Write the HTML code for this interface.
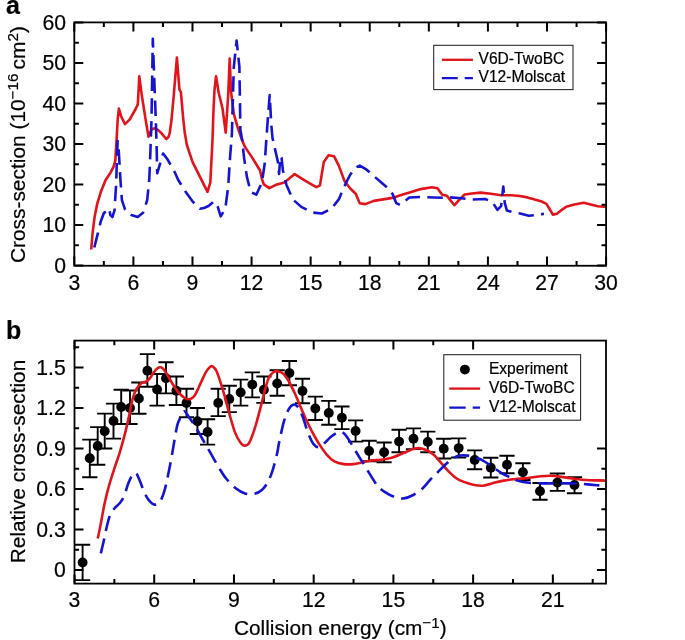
<!DOCTYPE html><html><head><meta charset="utf-8"><style>html,body{margin:0;padding:0;background:#fff;width:685px;height:640px;overflow:hidden}svg{display:block;will-change:transform}text{font-family:"Liberation Sans", sans-serif;fill:#000;stroke:#000;stroke-width:0.2px}</style></head><body>
<svg width="685" height="640" viewBox="0 0 685 640">
<rect width="685" height="640" fill="#fff"/>
<g>
<clipPath id="ca"><rect x="74.3" y="22.4" width="531.8" height="243.1"/></clipPath>
<g clip-path="url(#ca)">
<path d="M91.2 249.5 L92.8 231 L94.7 216.4 L97.1 204.2 L100.8 192.1 L105.6 180 L110.5 172.7 L113.6 166.7 L115.3 160.6 L116.5 141.2 L117.7 119.4 L118.9 108.5 L121.4 117 L125 124.2 L129.8 119.4 L135.9 108.5 L137.8 104.4 L139.3 76.3 L141.5 93.2 L145.3 117.6 L148.5 136.8 L151.5 129.5 L154.6 128.3 L158 130 L161 132.7 L166.2 139 L168.5 137 L169.8 132.6 L171.5 120 L173.8 95 L176.9 57.5 L179.4 89.4 L180.9 92.2 L183.1 117.6 L184.8 133 L186.9 145 L192.5 161.9 L200 176.9 L207.5 191.9 L210.3 182.5 L211.5 160 L212.5 140 L213.5 110 L214.5 90 L216 76.3 L218.8 93.2 L222.5 108.2 L225.7 132.6 L228.2 95 L229.7 58.5 L231 91.3 L233.8 113.8 L237.5 126.9 L241.3 138.2 L245 146.9 L252.5 158.1 L258.2 167.5 L260 170.3 L261.9 178.8 L263.8 184.4 L269.4 188.2 L276.9 184.4 L284.4 182.5 L294.7 174.1 L305 180.7 L316.3 187.2 L320 185.3 L323.8 161.9 L328.5 155.3 L334.1 156.3 L338.8 165.6 L344.4 180.7 L350 188.2 L355.7 193.8 L359.7 203.2 L365.3 204.1 L373.8 200.9 L383.1 199.4 L392.5 197.9 L401.9 194.7 L411.3 191.9 L420.7 189.1 L431.9 187.2 L437.5 188.2 L442.2 194.7 L446.9 195.7 L449.7 199.4 L454.4 205.2 L458.8 200.4 L464.6 194.5 L471.9 193.5 L480.7 192.6 L490.9 193.8 L501.1 195.3 L511.3 195.3 L520 196 L527.4 197.4 L534.7 199.6 L541.7 201.5 L546.4 203.9 L549.3 208.5 L552.8 214.6 L556.9 213.8 L560.4 210.9 L566.2 206.8 L574.4 204.5 L583.7 202.7 L590.7 204.5 L597.7 206.2 L604.7 206.8 L606 207" fill="none" stroke="#e0141a" stroke-width="2.6" stroke-linejoin="round"/>
<path d="M94.3 247.5 L97.7 233.9 L100.8 221.3 L104 212.8 L107.2 210.7 L109.3 208.6 L110.3 214.9 L112.4 217 L114.5 210.7 L116.2 183.3 L117.1 151.6 L117.7 141.1 L118.8 151.6 L120.4 179.1 L121.9 200.2 L125.1 209.7 L131.4 214.9 L137.7 217 L143 212.8 L147.2 200.2 L149.3 179.1 L150.4 151.6 L151.5 120 L152.8 38.8 L154.3 80 L155.8 120 L156.6 145 L157.2 173.3 L163.1 153.6 L167.8 159.8 L174.8 172.3 L178.1 179.8 L186.1 192.5 L192.5 201.3 L200 208.8 L204 208 L208.5 206 L214.1 201.3 L217.8 206.9 L220.7 216.3 L225.3 208.8 L228.2 186.3 L230 158.1 L231.9 133.8 L233.8 66.9 L236.6 40.6 L239.4 66.9 L240.4 130 L242.2 140 L244.1 158.1 L246.9 176.9 L250.7 191.9 L256.3 194.7 L261.9 182.5 L264.7 163.8 L266.6 135.6 L268.5 110 L269.7 95 L271.3 125 L272.5 138 L274.1 145 L277.8 161.5 L279.1 174 L280.3 156.3 L281.6 158.1 L282.9 170.3 L286.3 184.4 L292.8 199.4 L301.3 206.9 L312.5 212.5 L321.9 213.5 L331.3 208.8 L338.8 199.4 L344.4 186.3 L350 175 L355.7 167.5 L359.7 165.6 L366.3 169.4 L373.8 176 L381.3 182.5 L386.9 187.2 L392.5 193.8 L396.3 203.2 L400 205 L404.7 201.3 L409.4 197.5 L420.7 197 L433.8 197.5 L445 197.9 L450 197.4 L461.7 198.2 L470.4 199.6 L485 199 L492.3 201.8 L497.4 209.9 L501.1 206.2 L503.3 186.5 L504.7 202.6 L506.9 210.6 L512.8 212 L520.1 213.5 L528.8 215.7 L537.6 215 L544 213.8" fill="none" stroke="#1414d2" stroke-width="2.6" stroke-linejoin="round" stroke-dasharray="15.5 7.3"/>
</g>
<rect x="74.3" y="22.4" width="531.8" height="243.35" fill="none" stroke="#000" stroke-width="1.8"/>
<path d="M74.3 265.5V256.5M74.3 22.4V31.4M133.39 265.5V256.5M133.39 22.4V31.4M192.48 265.5V256.5M192.48 22.4V31.4M251.57 265.5V256.5M251.57 22.4V31.4M310.66 265.5V256.5M310.66 22.4V31.4M369.74 265.5V256.5M369.74 22.4V31.4M428.83 265.5V256.5M428.83 22.4V31.4M487.92 265.5V256.5M487.92 22.4V31.4M547.01 265.5V256.5M547.01 22.4V31.4M606.1 265.5V256.5M606.1 22.4V31.4M103.84 265.5V260.9M103.84 22.4V27M162.93 265.5V260.9M162.93 22.4V27M222.02 265.5V260.9M222.02 22.4V27M281.11 265.5V260.9M281.11 22.4V27M340.2 265.5V260.9M340.2 22.4V27M399.29 265.5V260.9M399.29 22.4V27M458.38 265.5V260.9M458.38 22.4V27M517.47 265.5V260.9M517.47 22.4V27M576.56 265.5V260.9M576.56 22.4V27M74.3 265.5H83.3M606.1 265.5H597.1M74.3 224.98H83.3M606.1 224.98H597.1M74.3 184.47H83.3M606.1 184.47H597.1M74.3 143.95H83.3M606.1 143.95H597.1M74.3 103.43H83.3M606.1 103.43H597.1M74.3 62.92H83.3M606.1 62.92H597.1M74.3 22.4H83.3M606.1 22.4H597.1M74.3 245.24H78.9M606.1 245.24H601.5M74.3 204.72H78.9M606.1 204.72H601.5M74.3 164.21H78.9M606.1 164.21H601.5M74.3 123.69H78.9M606.1 123.69H601.5M74.3 83.18H78.9M606.1 83.18H601.5M74.3 42.66H78.9M606.1 42.66H601.5" stroke="#000" stroke-width="2.0" fill="none"/>
<text x="74.3" y="289.9" font-size="21.2" text-anchor="middle" font-weight="normal">3</text>
<text x="133.39" y="289.9" font-size="21.2" text-anchor="middle" font-weight="normal">6</text>
<text x="192.48" y="289.9" font-size="21.2" text-anchor="middle" font-weight="normal">9</text>
<text x="251.57" y="289.9" font-size="21.2" text-anchor="middle" font-weight="normal">12</text>
<text x="310.66" y="289.9" font-size="21.2" text-anchor="middle" font-weight="normal">15</text>
<text x="369.74" y="289.9" font-size="21.2" text-anchor="middle" font-weight="normal">18</text>
<text x="428.83" y="289.9" font-size="21.2" text-anchor="middle" font-weight="normal">21</text>
<text x="487.92" y="289.9" font-size="21.2" text-anchor="middle" font-weight="normal">24</text>
<text x="547.01" y="289.9" font-size="21.2" text-anchor="middle" font-weight="normal">27</text>
<text x="606.1" y="289.9" font-size="21.2" text-anchor="middle" font-weight="normal">30</text>
<text x="66" y="272.7" font-size="21.2" text-anchor="end" font-weight="normal">0</text>
<text x="66" y="232.18" font-size="21.2" text-anchor="end" font-weight="normal">10</text>
<text x="66" y="191.67" font-size="21.2" text-anchor="end" font-weight="normal">20</text>
<text x="66" y="151.15" font-size="21.2" text-anchor="end" font-weight="normal">30</text>
<text x="66" y="110.63" font-size="21.2" text-anchor="end" font-weight="normal">40</text>
<text x="66" y="70.12" font-size="21.2" text-anchor="end" font-weight="normal">50</text>
<text x="66" y="29.6" font-size="21.2" text-anchor="end" font-weight="normal">60</text>
<text transform="translate(24.9 144.6) rotate(-90)" font-size="20.900000000000002" text-anchor="middle">Cross-section (10<tspan font-size="15.2" dy="-7.4">−16 </tspan><tspan dy="7.4">cm</tspan><tspan font-size="15.2" dy="-7.4">2</tspan><tspan dy="7.4">)</tspan></text>
<rect x="433.7" y="45.3" width="139.3" height="44.3" fill="#fff" stroke="#222" stroke-width="1.05"/>
<path d="M441.9 59.8H472.9" stroke="#e0141a" stroke-width="2.3"/>
<path d="M441.9 78.1H472.9" stroke="#1414d2" stroke-width="2.3" stroke-dasharray="15.8 7"/>
<text x="478.5" y="63.8" font-size="15.6" text-anchor="start" font-weight="normal">V6D-TwoBC</text>
<text x="478.5" y="82.4" font-size="15.6" text-anchor="start" font-weight="normal">V12-Molscat</text>
<text x="6" y="14.4" font-size="25" text-anchor="start" font-weight="bold">a</text>
</g>
<g>
<clipPath id="cb"><rect x="74.5" y="340.6" width="531.5" height="243"/></clipPath>
<g clip-path="url(#cb)">
<path d="M82.6 544.8V580.1M75 544.8H90.2M75 580.1H90.2M89.8 439.6V477.2M82.2 439.6H97.4M82.2 477.2H97.4M97.7 427.1V464.7M90.1 427.1H105.3M90.1 464.7H105.3M104.7 413.6V448.5M97.1 413.6H112.3M97.1 448.5H112.3M113.5 403.6V438.6M105.9 403.6H121.1M105.9 438.6H121.1M121.2 389.7V424M113.6 389.7H128.8M113.6 424H128.8M130 390.5V424M122.4 390.5H137.6M122.4 424H137.6M138.9 382.5V413.8M131.3 382.5H146.5M131.3 413.8H146.5M147.4 354.1V386.7M139.8 354.1H155M139.8 386.7H155M157.1 374V405.6M149.5 374H164.7M149.5 405.6H164.7M166 362.2V393.4M158.4 362.2H173.6M158.4 393.4H173.6M176.4 376.5V405M168.8 376.5H184M168.8 405H184M186.5 388.7V417.2M178.9 388.7H194.1M178.9 417.2H194.1M197.4 408V434M189.8 408H205M189.8 434H205M207.6 419.2V444.6M200 419.2H215.2M200 444.6H215.2M218.2 388.7V416.1M210.6 388.7H225.8M210.6 416.1H225.8M229.3 385.7V412.1M221.7 385.7H236.9M221.7 412.1H236.9M240.7 379.6V405.6M233.1 379.6H248.3M233.1 405.6H248.3M252.3 372.4V397.4M244.7 372.4H259.9M244.7 397.4H259.9M263.9 376.5V402.9M256.3 376.5H271.5M256.3 402.9H271.5M277.2 370.3V395.7M269.6 370.3H284.8M269.6 395.7H284.8M289.4 361V385.3M281.8 361H297M281.8 385.3H297M302.5 378.8V403.2M294.9 378.8H310.1M294.9 403.2H310.1M315.3 396.6V420M307.7 396.6H322.9M307.7 420H322.9M328.8 400.9V424.7M321.2 400.9H336.4M321.2 424.7H336.4M341.9 406.5V429.1M334.3 406.5H349.5M334.3 429.1H349.5M355.6 420.4V441.6M348 420.4H363.2M348 441.6H363.2M369.1 440.7V461.3M361.5 440.7H376.7M361.5 461.3H376.7M384.1 442.5V462.2M376.5 442.5H391.7M376.5 462.2H391.7M399.1 429.8V452.3M391.5 429.8H406.7M391.5 452.3H406.7M413.5 428.4V449.1M405.9 428.4H421.1M405.9 449.1H421.1M427.8 431.6V452.3M420.2 431.6H435.4M420.2 452.3H435.4M443.7 438.8V458.5M436.1 438.8H451.3M436.1 458.5H451.3M458.7 438.4V457.5M451.1 438.4H466.3M451.1 457.5H466.3M474.7 450.4V469.2M467.1 450.4H482.3M467.1 469.2H482.3M490.8 457.8V477.5M483.2 457.8H498.4M483.2 477.5H498.4M507 455.8V473.2M499.4 455.8H514.6M499.4 473.2H514.6M522.9 463.3V480M515.3 463.3H530.5M515.3 480H530.5M540 483V499.7M532.4 483H547.6M532.4 499.7H547.6M557.4 473.5V490.9M549.8 473.5H565M549.8 490.9H565M574.5 477.1V493.2M566.9 477.1H582.1M566.9 493.2H582.1" stroke="#000" stroke-width="1.9" fill="none"/>
<circle cx="82.6" cy="562.5" r="4.95" fill="#000"/>
<circle cx="89.8" cy="458.2" r="4.95" fill="#000"/>
<circle cx="97.7" cy="446" r="4.95" fill="#000"/>
<circle cx="104.7" cy="431.3" r="4.95" fill="#000"/>
<circle cx="113.5" cy="421" r="4.95" fill="#000"/>
<circle cx="121.2" cy="407" r="4.95" fill="#000"/>
<circle cx="130" cy="408" r="4.95" fill="#000"/>
<circle cx="138.9" cy="398.5" r="4.95" fill="#000"/>
<circle cx="147.4" cy="370.8" r="4.95" fill="#000"/>
<circle cx="157.1" cy="389.5" r="4.95" fill="#000"/>
<circle cx="166" cy="378.2" r="4.95" fill="#000"/>
<circle cx="176.4" cy="390.8" r="4.95" fill="#000"/>
<circle cx="186.5" cy="403" r="4.95" fill="#000"/>
<circle cx="197.4" cy="421.2" r="4.95" fill="#000"/>
<circle cx="207.6" cy="432" r="4.95" fill="#000"/>
<circle cx="218.2" cy="402.9" r="4.95" fill="#000"/>
<circle cx="229.3" cy="398.9" r="4.95" fill="#000"/>
<circle cx="240.7" cy="392.4" r="4.95" fill="#000"/>
<circle cx="252.3" cy="384.6" r="4.95" fill="#000"/>
<circle cx="263.9" cy="389.7" r="4.95" fill="#000"/>
<circle cx="277.2" cy="383.5" r="4.95" fill="#000"/>
<circle cx="289.4" cy="373.1" r="4.95" fill="#000"/>
<circle cx="302.5" cy="391" r="4.95" fill="#000"/>
<circle cx="315.3" cy="408.4" r="4.95" fill="#000"/>
<circle cx="328.8" cy="412.9" r="4.95" fill="#000"/>
<circle cx="341.9" cy="417.8" r="4.95" fill="#000"/>
<circle cx="355.6" cy="430.9" r="4.95" fill="#000"/>
<circle cx="369.1" cy="451" r="4.95" fill="#000"/>
<circle cx="384.1" cy="452.3" r="4.95" fill="#000"/>
<circle cx="399.1" cy="441.6" r="4.95" fill="#000"/>
<circle cx="413.5" cy="438.8" r="4.95" fill="#000"/>
<circle cx="427.8" cy="442" r="4.95" fill="#000"/>
<circle cx="443.7" cy="448.7" r="4.95" fill="#000"/>
<circle cx="458.7" cy="448.1" r="4.95" fill="#000"/>
<circle cx="474.7" cy="460" r="4.95" fill="#000"/>
<circle cx="490.8" cy="467.8" r="4.95" fill="#000"/>
<circle cx="507" cy="464.7" r="4.95" fill="#000"/>
<circle cx="522.9" cy="472.2" r="4.95" fill="#000"/>
<circle cx="540" cy="491.3" r="4.95" fill="#000"/>
<circle cx="557.4" cy="482.6" r="4.95" fill="#000"/>
<circle cx="574.5" cy="485" r="4.95" fill="#000"/>
<path d="M97.8 538.6C98.37 535.77 100.07 527.45 101.2 521.6C102.33 515.75 103.28 509.53 104.6 503.5C105.92 497.47 107.4 491.45 109.1 485.4C110.8 479.35 113.08 472.5 114.8 467.2C116.52 461.9 117.73 459.07 119.4 453.6C121.07 448.13 123.18 440.68 124.8 434.4C126.42 428.12 127.86 421.58 129.1 415.9C130.34 410.22 131.07 404.72 132.25 400.3C133.43 395.88 134.64 392.27 136.2 389.4C137.76 386.53 139.97 384.4 141.6 383.1C143.23 381.8 144.6 382.43 146 381.6C147.4 380.77 148.72 379.62 150 378.1C151.28 376.58 152.45 374.13 153.7 372.5C154.95 370.87 156.4 369.17 157.5 368.3C158.6 367.43 159.37 367.23 160.3 367.3C161.23 367.37 162.17 367.83 163.1 368.7C164.03 369.57 164.97 371.08 165.9 372.5C166.83 373.92 167.6 375.33 168.7 377.2C169.8 379.07 171.25 381.67 172.5 383.7C173.75 385.73 174.95 387.68 176.2 389.4C177.45 391.12 178.75 392.68 180 394C181.25 395.32 182.45 396.43 183.7 397.3C184.95 398.17 186.25 398.97 187.5 399.2C188.75 399.43 189.95 399.4 191.2 398.7C192.45 398 193.75 396.87 195 395C196.25 393.13 197.45 390.15 198.7 387.5C199.95 384.85 201.25 381.75 202.5 379.1C203.75 376.45 204.95 373.63 206.2 371.6C207.45 369.57 208.95 367.78 210 366.9C211.05 366.02 211.38 365.55 212.5 366.3C213.62 367.05 214.98 367.5 216.7 371.4C218.42 375.3 220.77 382.92 222.8 389.7C224.83 396.48 226.87 404.98 228.9 412.1C230.93 419.22 232.97 427.15 235 432.4C237.03 437.65 239.47 441.4 241.1 443.6C242.73 445.8 243.43 445.77 244.8 445.6C246.17 445.43 247.53 445.82 249.3 442.6C251.07 439.38 253.37 432.75 255.4 426.3C257.43 419.85 259.9 409.95 261.5 403.9C263.1 397.85 263.78 394.35 265 390C266.22 385.65 267.4 380.77 268.8 377.8C270.2 374.83 271.85 373.28 273.4 372.2C274.95 371.12 276.37 370.98 278.1 371.3C279.83 371.62 281.92 372.23 283.8 374.1C285.68 375.97 287.53 379.22 289.4 382.5C291.27 385.78 293.13 389.73 295 393.8C296.87 397.87 298.72 402.53 300.6 406.9C302.48 411.27 304.42 415.93 306.3 420C308.18 424.07 309.72 427.23 311.9 431.3C314.08 435.37 316.9 440.48 319.4 444.4C321.9 448.32 324.4 451.98 326.9 454.8C329.4 457.62 331.58 459.75 334.4 461.3C337.22 462.85 340.67 463.63 343.8 464.1C346.93 464.57 350.07 464.4 353.2 464.1C356.33 463.8 359.48 462.92 362.6 462.3C365.72 461.68 368.78 460.82 371.9 460.4C375.02 459.98 377.87 460.28 381.3 459.8C384.73 459.32 388.75 458.67 392.5 457.5C396.25 456.33 400.35 454.2 403.8 452.8C407.25 451.4 410.7 449.88 413.2 449.1C415.7 448.32 416.62 447.95 418.8 448.1C420.98 448.25 423.8 448.9 426.3 450C428.8 451.1 431.3 452.5 433.8 454.7C436.3 456.9 438.8 460.38 441.3 463.2C443.8 466.02 446.3 469.1 448.8 471.6C451.3 474.1 453.8 476.48 456.3 478.2C458.8 479.92 460.98 480.82 463.8 481.9C466.62 482.98 470.07 484.07 473.2 484.7C476.33 485.33 479.5 485.92 482.6 485.7C485.7 485.48 488.3 484.25 491.8 483.4C495.3 482.55 499.67 481.32 503.6 480.6C507.53 479.88 511.47 479.52 515.4 479.1C519.33 478.68 523.27 478.53 527.2 478.1C531.13 477.67 535.05 476.9 539 476.5C542.95 476.1 546.95 475.6 550.9 475.7C554.85 475.8 558.77 476.6 562.7 477.1C566.63 477.6 570.57 478.22 574.5 478.7C578.43 479.18 582.37 479.72 586.3 480C590.23 480.28 594.82 480.3 598.1 480.4C601.38 480.5 604.68 480.57 606 480.6" fill="none" stroke="#e0141a" stroke-width="2.6" stroke-linejoin="round"/>
<path d="M100.8 553.4C101.25 551.5 102.48 546.53 103.5 542C104.52 537.47 105.77 530.73 106.9 526.2C108.03 521.67 108.98 517.83 110.3 514.8C111.62 511.77 113.28 509.88 114.8 508C116.32 506.12 117.88 505.38 119.4 503.5C120.92 501.62 122.4 500.1 123.9 496.7C125.4 493.3 126.88 486.88 128.4 483.1C129.92 479.32 131.67 475.58 133 474C134.33 472.42 135.27 472.47 136.4 473.6C137.53 474.73 138.48 477.7 139.8 480.8C141.12 483.9 142.8 488.98 144.3 492.2C145.8 495.42 147.1 498.03 148.8 500.1C150.5 502.17 152.6 504.42 154.5 504.6C156.4 504.78 158.5 503.65 160.2 501.2C161.9 498.75 163.2 495.18 164.7 489.9C166.2 484.62 167.88 475.93 169.2 469.5C170.52 463.07 171.62 456.8 172.6 451.3C173.58 445.8 174.28 440.98 175.1 436.5C175.92 432.02 176.63 427.52 177.5 424.4C178.37 421.28 179.2 419.98 180.3 417.8C181.4 415.62 182.68 411.45 184.1 411.3C185.52 411.15 186.77 414.1 188.8 416.9C190.83 419.7 193.8 424.03 196.3 428.1C198.8 432.17 201.3 436.92 203.8 441.3C206.3 445.68 208.8 450.03 211.3 454.4C213.8 458.77 216.3 463.43 218.8 467.5C221.3 471.57 223.48 475.35 226.3 478.8C229.12 482.25 232.58 485.77 235.7 488.2C238.82 490.63 241.88 492.47 245 493.4C248.12 494.33 251.58 494.37 254.4 493.8C257.22 493.23 259.7 491.88 261.9 490C264.1 488.12 265.87 485.62 267.6 482.5C269.33 479.38 270.75 475.98 272.3 471.3C273.85 466.62 275.77 459.18 276.9 454.4C278.03 449.62 277.95 448.02 279.1 442.6C280.25 437.18 282.23 427.38 283.8 421.9C285.37 416.42 286.95 412.57 288.5 409.7C290.05 406.83 291.55 405.17 293.1 404.7C294.65 404.23 296.23 404.97 297.8 406.9C299.37 408.83 300.77 411.92 302.5 416.3C304.23 420.68 306.32 428.52 308.2 433.2C310.08 437.88 311.93 442.05 313.8 444.4C315.67 446.75 317.53 447.6 319.4 447.3C321.27 447 323.12 444.33 325 442.6C326.88 440.87 328.5 438.63 330.7 436.9C332.9 435.17 336.02 432.82 338.2 432.2C340.38 431.58 341.93 431.78 343.8 433.2C345.67 434.62 347.53 437.9 349.4 440.7C351.27 443.5 353.12 446.88 355 450C356.88 453.12 359.13 456.9 360.7 459.4C362.27 461.9 362.85 462.5 364.4 465C365.95 467.5 367.82 470.95 370 474.4C372.18 477.85 375 482.73 377.5 485.7C380 488.67 382.18 490.33 385 492.2C387.82 494.07 391.27 495.87 394.4 496.9C397.53 497.93 400.67 498.72 403.8 498.4C406.93 498.08 410.08 496.65 413.2 495C416.32 493.35 419.7 491 422.5 488.5C425.3 486 427.5 482.67 430 480C432.5 477.33 435 475 437.5 472.5C440 470 442.5 467.33 445 465C447.5 462.67 450 460.07 452.5 458.5C455 456.93 457.48 456.08 460 455.6C462.52 455.12 465.08 455.28 467.6 455.6C470.12 455.92 472.6 456.72 475.1 457.5C477.6 458.28 479.82 458.83 482.6 460.3C485.38 461.77 488.62 464.17 491.8 466.3C494.98 468.43 498.75 471.3 501.7 473.1C504.65 474.9 507.22 475.95 509.5 477.1C511.78 478.25 513.1 479.18 515.4 480C517.7 480.82 520.67 481.5 523.3 482C525.93 482.5 527.92 482.77 531.2 483C534.48 483.23 539.07 483.33 543 483.4C546.93 483.47 550.87 483.4 554.8 483.4C558.73 483.4 562.67 483.37 566.6 483.4C570.53 483.43 574.47 483.4 578.4 483.6C582.33 483.8 585.6 484.2 590.2 484.6C594.8 485 603.37 485.77 606 486" fill="none" stroke="#1414d2" stroke-width="2.6" stroke-linejoin="round" stroke-dasharray="15.5 7.3"/>
</g>
<rect x="74.5" y="340.6" width="531.5" height="243" fill="none" stroke="#000" stroke-width="1.8"/>
<path d="M74.5 583.6V574.6M74.5 340.6V349.6M154.22 583.6V574.6M154.22 340.6V349.6M233.95 583.6V574.6M233.95 340.6V349.6M313.68 583.6V574.6M313.68 340.6V349.6M393.4 583.6V574.6M393.4 340.6V349.6M473.12 583.6V574.6M473.12 340.6V349.6M552.85 583.6V574.6M114.36 583.6V579M114.36 340.6V345.2M194.09 583.6V579M194.09 340.6V345.2M273.81 583.6V579M273.81 340.6V345.2M353.54 583.6V579M353.54 340.6V345.2M433.26 583.6V579M433.26 340.6V345.2M512.99 583.6V579M592.71 583.6V579M74.5 570.1H83.5M606 570.1H597M74.5 529.58H83.5M606 529.58H597M74.5 489.06H83.5M606 489.06H597M74.5 448.54H83.5M606 448.54H597M74.5 408.02H83.5M74.5 367.5H83.5M74.5 549.84H79.1M606 549.84H601.4M74.5 509.32H79.1M606 509.32H601.4M74.5 468.8H79.1M606 468.8H601.4M74.5 428.28H79.1M74.5 387.76H79.1M74.5 347.23H79.1" stroke="#000" stroke-width="2.0" fill="none"/>
<text x="74.5" y="607" font-size="21.2" text-anchor="middle" font-weight="normal">3</text>
<text x="154.22" y="607" font-size="21.2" text-anchor="middle" font-weight="normal">6</text>
<text x="233.95" y="607" font-size="21.2" text-anchor="middle" font-weight="normal">9</text>
<text x="313.68" y="607" font-size="21.2" text-anchor="middle" font-weight="normal">12</text>
<text x="393.4" y="607" font-size="21.2" text-anchor="middle" font-weight="normal">15</text>
<text x="473.12" y="607" font-size="21.2" text-anchor="middle" font-weight="normal">18</text>
<text x="552.85" y="607" font-size="21.2" text-anchor="middle" font-weight="normal">21</text>
<text x="65.8" y="577.3" font-size="21.2" text-anchor="end" font-weight="normal">0</text>
<text x="65.8" y="536.78" font-size="21.2" text-anchor="end" font-weight="normal">0.3</text>
<text x="65.8" y="496.26" font-size="21.2" text-anchor="end" font-weight="normal">0.6</text>
<text x="65.8" y="455.74" font-size="21.2" text-anchor="end" font-weight="normal">0.9</text>
<text x="65.8" y="415.22" font-size="21.2" text-anchor="end" font-weight="normal">1.2</text>
<text x="65.8" y="374.69" font-size="21.2" text-anchor="end" font-weight="normal">1.5</text>
<text transform="translate(24.9 461.5) rotate(-90)" font-size="20.8" text-anchor="middle">Relative cross-section</text>
<text x="340.3" y="634.9" font-size="20.8" text-anchor="middle">Collision energy (cm<tspan font-size="15.2" dy="-6.6">−1</tspan><tspan dy="6.6">)</tspan></text>
<rect x="443.8" y="354.7" width="136.8" height="65.5" fill="#fff" stroke="#222" stroke-width="1.05"/>
<circle cx="464.9" cy="369.6" r="4.95" fill="#000"/>
<path d="M449.3 388.6H480.1" stroke="#e0141a" stroke-width="2.3"/>
<path d="M449.3 407.7H480.1" stroke="#1414d2" stroke-width="2.3" stroke-dasharray="16.4 7"/>
<text x="488.9" y="373.5" font-size="15.6" text-anchor="start" font-weight="normal">Experiment</text>
<text x="488.9" y="393" font-size="15.6" text-anchor="start" font-weight="normal">V6D-TwoBC</text>
<text x="488.9" y="412.2" font-size="15.6" text-anchor="start" font-weight="normal">V12-Molscat</text>
<text x="6" y="339.4" font-size="25" text-anchor="start" font-weight="bold">b</text>
</g>
</svg></body></html>
